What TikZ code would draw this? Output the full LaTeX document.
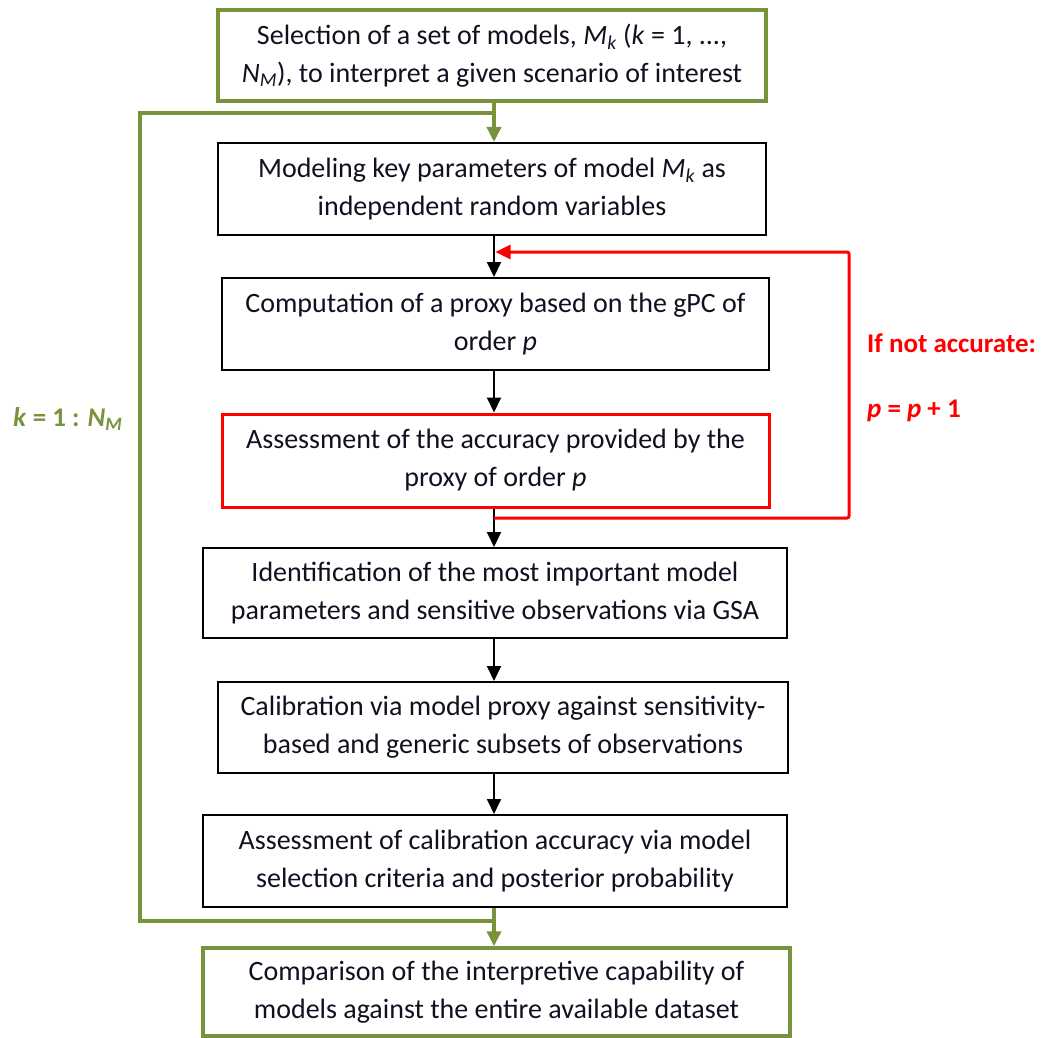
\documentclass[tikz,border=0pt]{standalone}
\usepackage{fontspec}
\setmainfont{Carlito}
\usetikzlibrary{arrows.meta}
\definecolor{olive}{HTML}{77933C}
\definecolor{rd}{HTML}{FF0000}
\definecolor{txt}{HTML}{101020}
\begin{document}
\begin{tikzpicture}[x=1pt,y=-1pt,
  every node/.style={font=\fontsize{28}{38}\selectfont, align=center, inner sep=0pt, text=txt},
  bbox/.style={draw=black, line width=2pt},
  gbox/.style={draw=olive, line width=3.5pt},
  rbox/.style={draw=rd, line width=3pt},
  tip/.style={-{Triangle[length=15pt,width=14pt]}},
  blk/.style={draw=black, line width=2pt, tip},
  grn/.style={draw=olive, line width=3.5pt},
  red/.style={draw=rd, line width=3pt},
  side/.style={anchor=west, font=\fontsize{27}{36}\selectfont\bfseries},
]
\useasboundingbox (0,0) rectangle (1055,1038);
\coordinate (ax) at (494,0);

\node[gbox, minimum width=548pt, minimum height=91pt] (b1) at (492,55.5)
  {Selection of a set of models, \textit{M}\textsubscript{\textit{k}} (\textit{k} = 1, ...,\\
   \textit{N}\textsubscript{\textit{M}}), to interpret a given scenario of interest};
\node[bbox, minimum width=548pt, minimum height=92pt] (b2) at (492,189)
  {Modeling key parameters of model \textit{M}\textsubscript{\textit{k}} as\\independent random variables};
\node[bbox, minimum width=547pt, minimum height=92pt] (b3) at (495.5,324)
  {Computation of a proxy based on the gPC of\\order \textit{p}};
\node[rbox, minimum width=547pt, minimum height=93pt] (b4) at (495.5,460.5)
  {Assessment of the accuracy provided by the\\proxy of order \textit{p}};
\node[bbox, minimum width=584pt, minimum height=90pt] (b5) at (495,593)
  {Identification of the most important model\\parameters and sensitive observations via GSA};
\node[bbox, minimum width=570pt, minimum height=91pt] (b6) at (503,727.5)
  {Calibration via model proxy against sensitivity-\\based and generic subsets of observations};
\node[bbox, minimum width=584pt, minimum height=92pt] (b7) at (495,861)
  {Assessment of calibration accuracy via model\\selection criteria and posterior probability};
\node[gbox, minimum width=587pt, minimum height=88pt] (b8) at (496.5,992)
  {Comparison of the interpretive capability of\\models against the entire available dataset};

\node[side, text=rd] (l1) at (867,343) {If not accurate:};
\node[side, text=rd] (l2) at (867,411) {\textit{p} = \textit{p} + 1};
\node[side, text=olive] (l3) at (13,419) {\textit{k} = 1 : \textit{N}\textsubscript{\textit{M}}};

% black arrows
\draw[blk] (b2.south -| ax) -- (b3.north -| ax);
\draw[blk] (b3.south -| ax) -- (b4.north -| ax);
\draw[blk] (b4.south -| ax) -- (b5.north -| ax);
\draw[blk] (b5.south -| ax) -- (b6.north -| ax);
\draw[blk] (b6.south -| ax) -- (b7.north -| ax);

% green flow and loop
\draw[grn, tip] (b1.south -| ax) -- (b2.north -| ax);
\draw[grn, tip] (b7.south -| ax) -- (b8.north -| ax);
\coordinate (gb) at (494,921);
\coordinate (gbl) at (140,921);
\coordinate (gtl) at (140,113);
\coordinate (gt) at (494,113);
\draw[grn, line join=miter] (gb) -- (gbl) -- (gtl) -- (gt);

% red loop
\coordinate (rb) at (494,518);
\coordinate (rbr) at (849,518);
\coordinate (rtr) at (849,252);
\coordinate (rt) at (495.5,252);
\draw[red, tip, rounded corners=2pt] (rb) -- (rbr) -- (rtr) -- (rt);
\end{tikzpicture}
\end{document}
